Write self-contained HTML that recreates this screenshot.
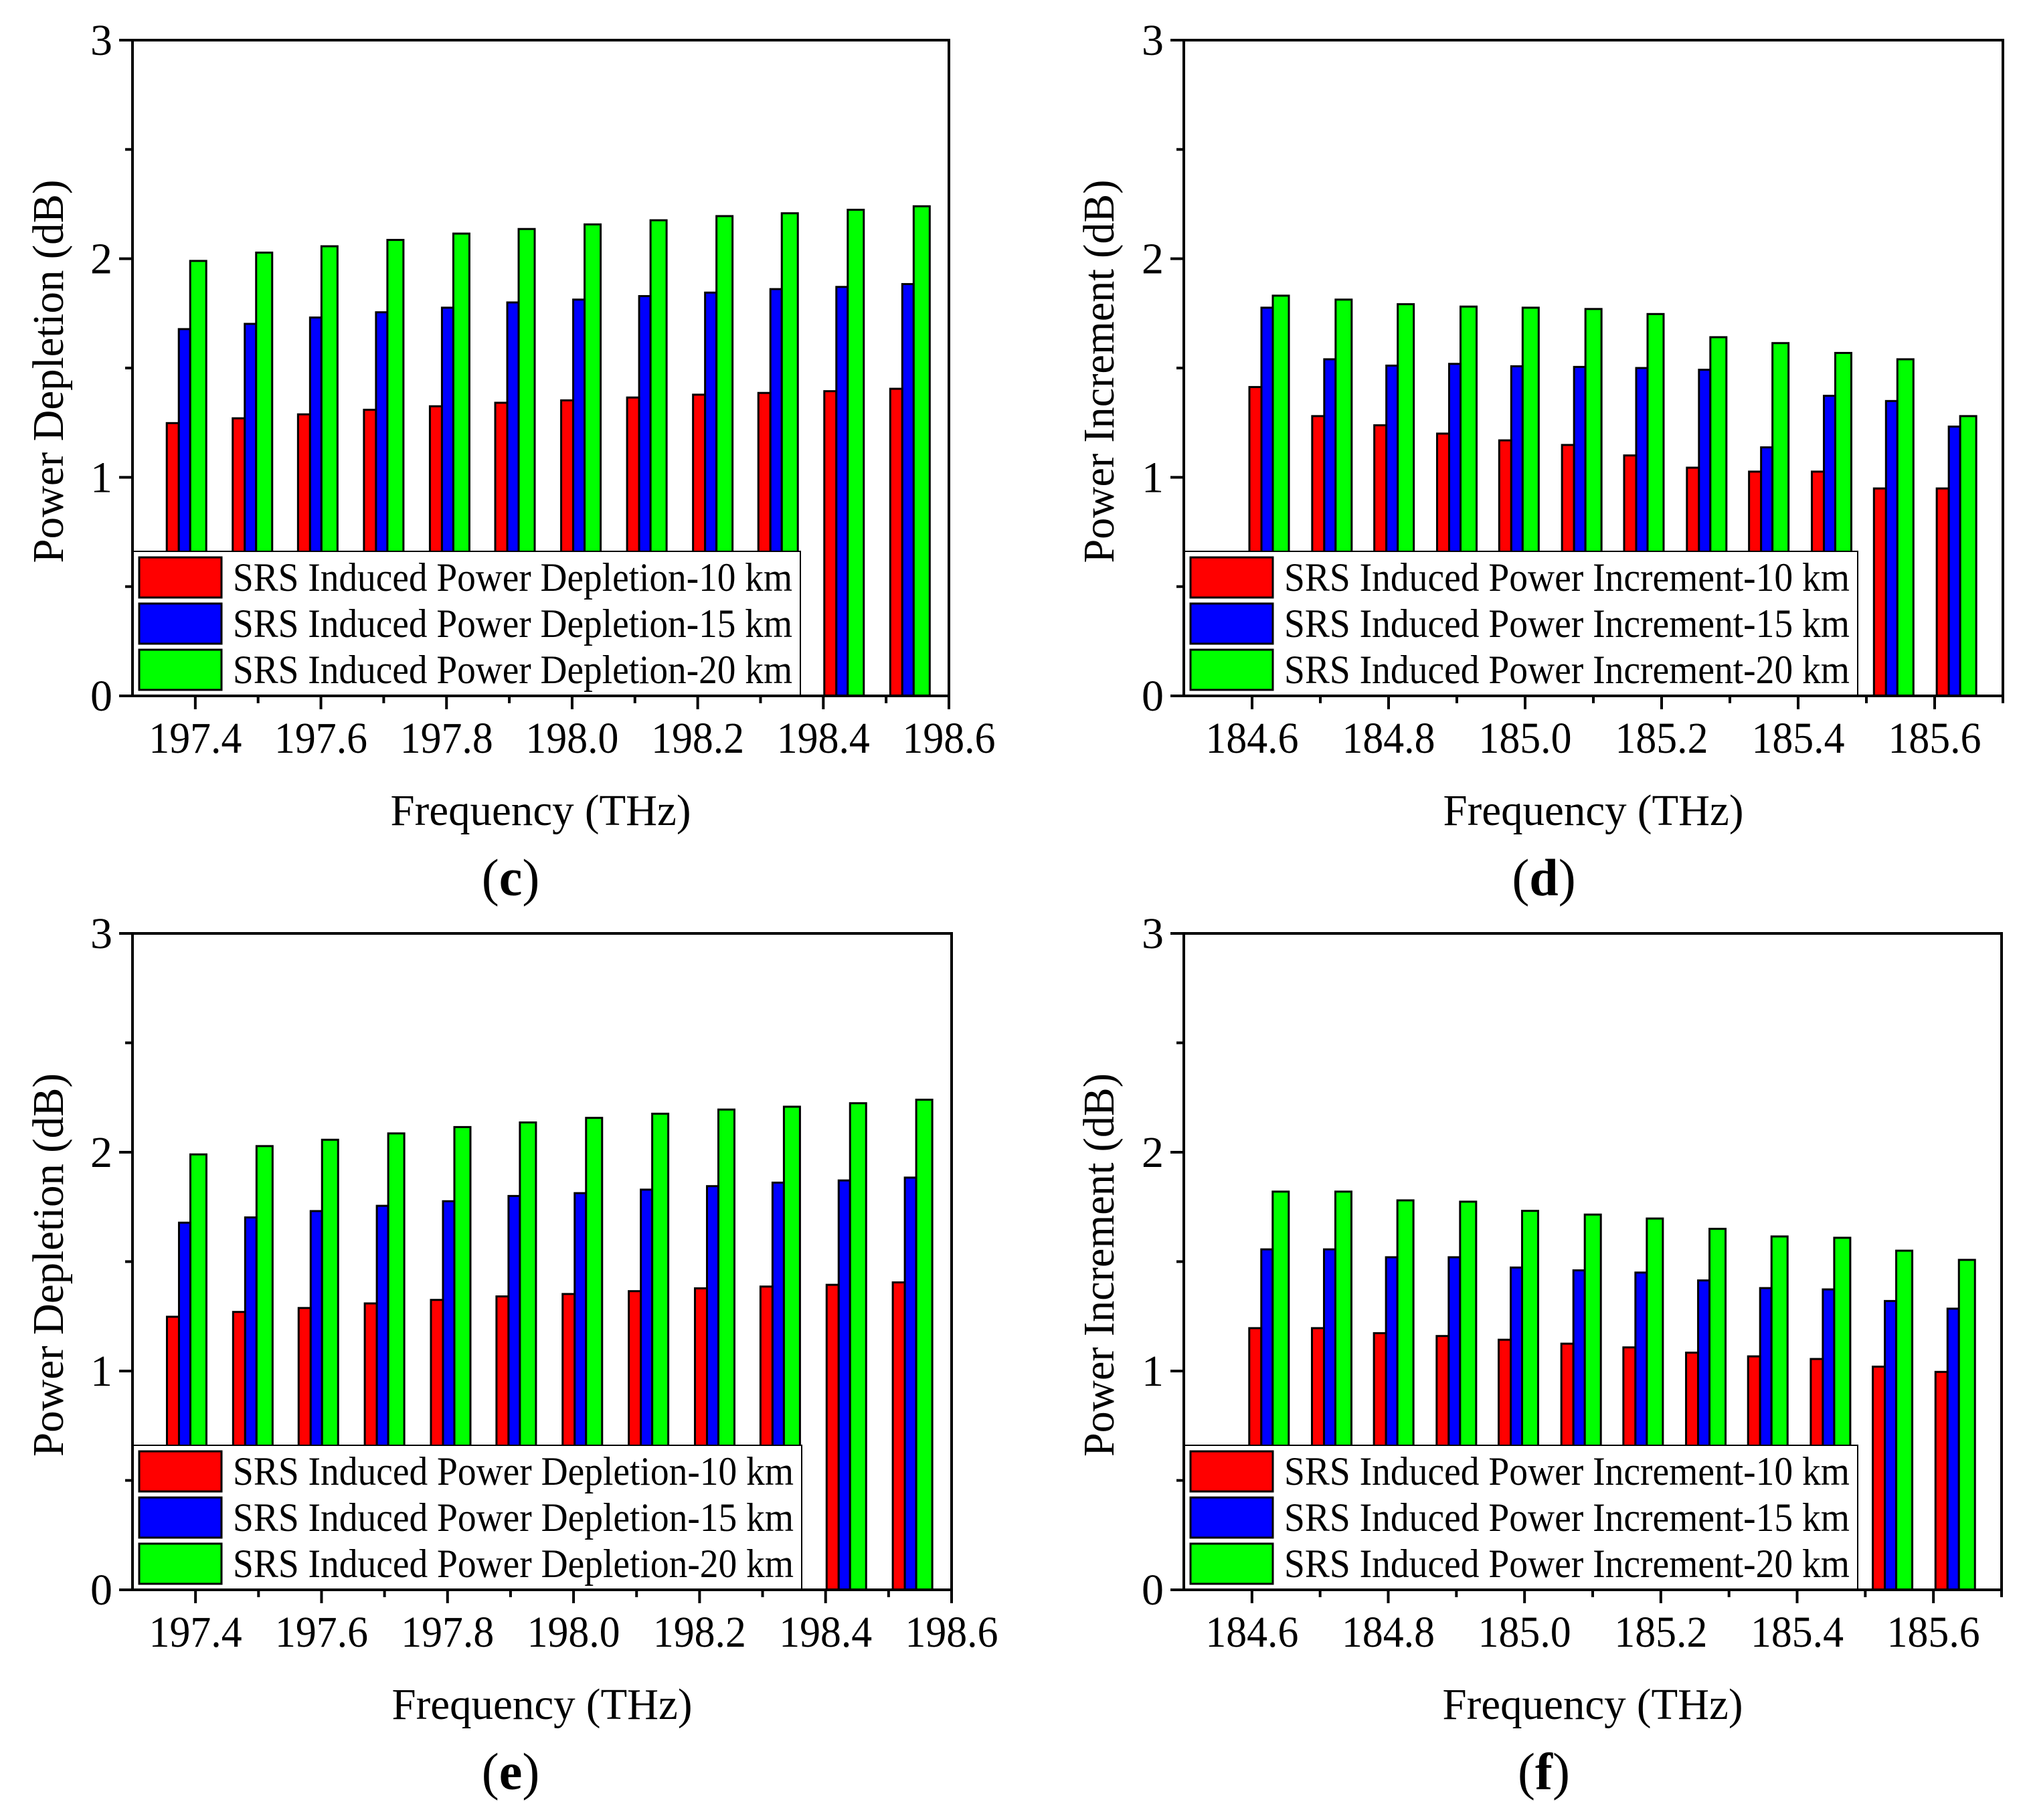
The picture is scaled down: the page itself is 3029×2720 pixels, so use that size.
<!DOCTYPE html>
<html><head><meta charset="utf-8"><style>
html,body{margin:0;padding:0;background:#fff;}
svg{display:block;font-family:"Liberation Serif",serif;}
</style></head><body>
<svg id="fig" width="3029" height="2720" viewBox="0 0 3029 2720"></svg>
<script>
const depFreq = [197.386,197.491,197.595,197.700,197.805,197.909,198.014,198.119,198.224,198.328,198.433,198.538];
const incFreq = [184.625,184.717,184.808,184.900,184.991,185.083,185.174,185.266,185.357,185.449,185.540,185.632];
const cRed = [1.248,1.27,1.288,1.309,1.325,1.341,1.352,1.365,1.378,1.386,1.394,1.405];
const cBlue = [1.678,1.702,1.731,1.755,1.776,1.80,1.813,1.829,1.845,1.861,1.871,1.884];
const cGreen = [1.99,2.028,2.057,2.086,2.115,2.136,2.157,2.176,2.195,2.208,2.224,2.24];
const dRed = [1.413,1.28,1.238,1.2,1.169,1.148,1.1,1.044,1.026,1.026,0.949,0.949];
const dBlue = [1.776,1.54,1.511,1.519,1.508,1.505,1.5,1.492,1.137,1.373,1.349,1.232];
const dGreen = [1.831,1.813,1.792,1.781,1.776,1.77,1.747,1.641,1.614,1.569,1.54,1.28];
const eRed = [1.248,1.27,1.288,1.309,1.325,1.341,1.352,1.365,1.378,1.386,1.394,1.405];
const eBlue = [1.678,1.702,1.731,1.755,1.776,1.80,1.813,1.829,1.845,1.861,1.871,1.884];
const eGreen = [1.99,2.028,2.057,2.086,2.115,2.136,2.157,2.176,2.195,2.208,2.224,2.24];
const fRed = [1.196,1.196,1.173,1.16,1.143,1.125,1.108,1.084,1.067,1.055,1.02,0.996];
const fBlue = [1.556,1.556,1.52,1.52,1.473,1.46,1.45,1.414,1.379,1.373,1.32,1.285];
const fGreen = [1.82,1.82,1.78,1.774,1.732,1.715,1.697,1.65,1.615,1.609,1.55,1.508];
const depTicks = ["197.4","197.6","197.8","198.0","198.2","198.4","198.6"];
const incTicks = ["184.6","184.8","185.0","185.2","185.4","185.6"];
const yTicks = ["0","1","2","3"];

const NS="http://www.w3.org/2000/svg";
const svg=document.getElementById('fig');
function mk(tag,attrs,parent){const e=document.createElementNS(NS,tag);for(const k in attrs)e.setAttribute(k,attrs[k]);(parent||svg).appendChild(e);return e;}

function panel(o){
  const g=mk('g',{});
  
  
  const X=v=>o.L+(v-o.xmin)/(o.xmax-o.xmin)*(o.R-o.L);
  const Y=v=>o.B-v/3*(o.B-o.T);
  const widths=[18,17,24], cols=['#ff0000','#0000ff','#00ff00'], names=['10km','15km','20km'];
  const series=[o.red,o.blue,o.green];
  for(let i=0;i<o.freq.length;i++){
    let x=X(o.freq[i])-29.5;
    for(let s=0;s<3;s++){
      const r=mk('rect',{x:x,y:Y(series[s][i]),width:widths[s],height:Y(0)-Y(series[s][i]),fill:cols[s],stroke:'#000','stroke-width':3},g);
      
      
      x+=widths[s];
    }
  }
  const lg=mk('g',{},g);
  
  
  mk('rect',{x:o.L,y:o.B-216,width:o.legW,height:216,fill:'#fff',stroke:'#000','stroke-width':2},lg);
  for(let s=0;s<3;s++){
    const yy=o.B-216+9+s*69;
    const sw=mk('rect',{x:o.L+10,y:yy,width:123,height:60,fill:cols[s],stroke:'#000','stroke-width':3},lg);
    
    
    const t=mk('text',{x:o.L+150,y:yy+50,'font-size':60,textLength:o.legW-162,lengthAdjust:'spacingAndGlyphs'},lg);
    t.textContent='SRS Induced Power '+o.word+'-'+[10,15,20][s]+' km';
    
    
  }
  mk('rect',{x:o.L,y:o.T,width:o.R-o.L,height:o.B-o.T,fill:'none',stroke:'#000','stroke-width':4},g);
  for(let v=o.xmin+0.1;v<=o.xmax+1e-6;v+=0.1){
    const px=X(v);
    const major=o.ticks.some(t=>Math.abs(parseFloat(t)-v)<1e-6);
    mk('line',{x1:px,y1:o.B,x2:px,y2:o.B+(major?20:11),stroke:'#000','stroke-width':4},g);
  }
  o.ticks.forEach(t=>{
    const tx=mk('text',{x:X(parseFloat(t)),y:o.B+85,'font-size':66,'text-anchor':'middle',textLength:139,lengthAdjust:'spacingAndGlyphs'},g);
    tx.textContent=t;
    
    
  });
  for(let v=0;v<=3;v+=0.5){
    mk('line',{x1:o.L,y1:Y(v),x2:o.L-(v%1===0?20:11),y2:Y(v),stroke:'#000','stroke-width':4},g);
  }
  yTicks.forEach(t=>{
    const ty=mk('text',{x:o.L-30,y:Y(parseFloat(t))+22,'font-size':66,'text-anchor':'end'},g);
    ty.textContent=t;
    
    
  });
  const xt=mk('text',{x:(o.L+o.R)/2,y:o.B+193,'font-size':66,'text-anchor':'middle',textLength:449,lengthAdjust:'spacingAndGlyphs'},g);
  xt.textContent='Frequency (THz)';
  
  
  const yt=mk('text',{x:0,y:0,'font-size':66,'text-anchor':'middle',textLength:573,lengthAdjust:'spacingAndGlyphs',transform:'translate('+(o.ytx)+','+((o.T+o.B)/2+5)+') rotate(-90)'},g);
  yt.textContent=o.ytitle;
  
  
  const pl=mk('text',{x:o.labX,y:o.B+298,'font-size':78,'text-anchor':'middle'},g);
  pl.innerHTML='(<tspan font-weight="bold">'+o.id+'</tspan>)';
  
  
}
panel({id:'c',L:198,R:1418,T:60,B:1040,xmin:197.3,xmax:198.6,freq:depFreq,red:cRed,blue:cBlue,green:cGreen,ticks:depTicks,word:'Depletion',legW:998,ytitle:'Power Depletion (dB)',ytx:94,labX:763});
panel({id:'d',L:1769,R:2993,T:60,B:1040,xmin:184.5,xmax:185.7,freq:incFreq,red:dRed,blue:dBlue,green:dGreen,ticks:incTicks,word:'Increment',legW:1007,ytitle:'Power Increment (dB)',ytx:1664,labX:2307});
panel({id:'e',L:198,R:1422,T:1395,B:2376,xmin:197.3,xmax:198.6,freq:depFreq,red:eRed,blue:eBlue,green:eGreen,ticks:depTicks,word:'Depletion',legW:1000,ytitle:'Power Depletion (dB)',ytx:94,labX:763});
panel({id:'f',L:1769,R:2991,T:1395,B:2376,xmin:184.5,xmax:185.7,freq:incFreq,red:fRed,blue:fBlue,green:fGreen,ticks:incTicks,word:'Increment',legW:1007,ytitle:'Power Increment (dB)',ytx:1664,labX:2307});
</script>
</body></html>
